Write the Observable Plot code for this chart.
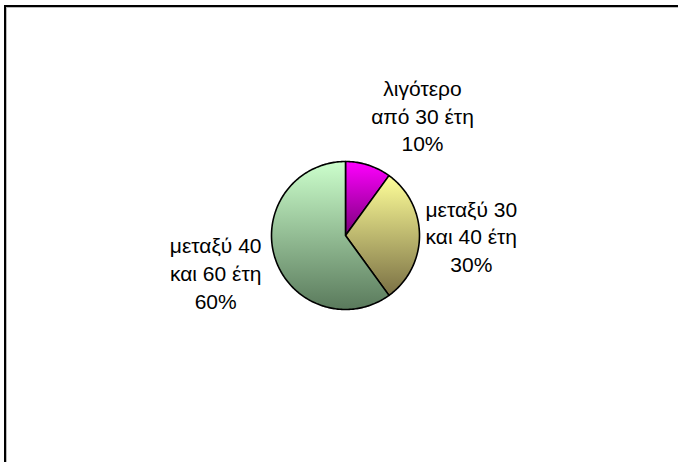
<!DOCTYPE html>
<html>
<head>
<meta charset="utf-8">
<script src="https://cdn.jsdelivr.net/npm/d3@7"></script>
<script src="https://cdn.jsdelivr.net/npm/@observablehq/plot@0.6"></script>
<style>
  html, body { margin: 0; padding: 0; background: #fff; }
  #wrap { position: relative; width: 678px; height: 462px; overflow: hidden; }
  #border { position: absolute; left: 4px; top: 5px; width: 700px; height: 500px;
            border-top: 2px solid #000; border-left: 2px solid #000; box-sizing: border-box; }
  #shadow { position: absolute; left: 6px; top: 7px; width: 700px; height: 500px;
            border-top: 1px solid #bbb; border-left: 1px solid #bbb; box-sizing: border-box; }
  svg { position: absolute; left: 0; top: 0; }
</style>
</head>
<body>
<div id="wrap"><div id="shadow"></div><div id="border"></div></div>
<script>
// ---- data ----
const categories = ["λιγότερο\nαπό 30 έτη", "μεταξύ 30\nκαι 40 έτη", "μεταξύ 40\nκαι 60 έτη"];
const values = [10, 30, 60];

// ---- styling / layout (not data) ----
const gradients = [
  ["#ff00ff", "#7a007a"],
  ["#ffff99", "#7a7044"],
  ["#ccffcc", "#5a7a5c"]
];
const cx = 345, cy = 235, r = 74;
const labelRadius = 1.75;
const labelNudge = [[0.5, -0.03], [-0.05, 0.0], [-0.09, 0.05]];

const total = d3.sum(values);
let acc = 0;
const slices = values.map((v, i) => {
  const a0 = acc / total * 2 * Math.PI;
  acc += v;
  const a1 = acc / total * 2 * Math.PI;
  return {i, category: categories[i], value: v, a0, a1, pct: Math.round(v / total * 100) + "%"};
});

// polygon points for each slice (angles measured clockwise from 12 o'clock)
const pts = [];
for (const s of slices) {
  pts.push({k: s.i, x: 0, y: 0, fill: `url(#grad${s.i})`});
  const n = Math.max(2, Math.ceil((s.a1 - s.a0) / (Math.PI / 180)));
  for (let j = 0; j <= n; j++) {
    const a = s.a0 + (s.a1 - s.a0) * j / n;
    pts.push({k: s.i, x: Math.sin(a), y: Math.cos(a), fill: `url(#grad${s.i})`});
  }
}

const labels = slices.map(s => {
  const m = (s.a0 + s.a1) / 2;
  return {
    text: s.category + "\n" + s.pct,
    x: Math.sin(m) * labelRadius + labelNudge[s.i][0],
    y: Math.cos(m) * labelRadius + labelNudge[s.i][1]
  };
});

const svg = Plot.plot({
  width: 678,
  height: 462,
  margin: 0,
  style: {background: "transparent", overflow: "visible"},
  x: {domain: [-1, 1], range: [cx - r, cx + r], axis: null},
  y: {domain: [-1, 1], range: [cy + r, cy - r], axis: null},
  color: {type: "identity"},
  marks: [
    Plot.line(pts, {x: "x", y: "y", z: "k", fill: "fill", stroke: "#000", strokeWidth: 1.6,
                    curve: "linear-closed", strokeLinejoin: "round"}),
    Plot.text(labels, {x: "x", y: "y", text: "text", fontSize: 21, lineHeight: 1.33,
                       fontFamily: "Liberation Sans, Arial, sans-serif", fill: "#000",
                       textAnchor: "middle", lineAnchor: "middle"})
  ]
});

// gradient definitions for slice fills
const defs = d3.select(svg).insert("defs", ":first-child");
gradients.forEach((g, i) => {
  const lg = defs.append("linearGradient").attr("id", "grad" + i)
    .attr("x1", 0).attr("y1", 0).attr("x2", 0).attr("y2", 1);
  lg.append("stop").attr("offset", "0%").attr("stop-color", g[0]);
  lg.append("stop").attr("offset", "100%").attr("stop-color", g[1]);
});

document.getElementById("wrap").appendChild(svg);
</script>
</body>
</html>
